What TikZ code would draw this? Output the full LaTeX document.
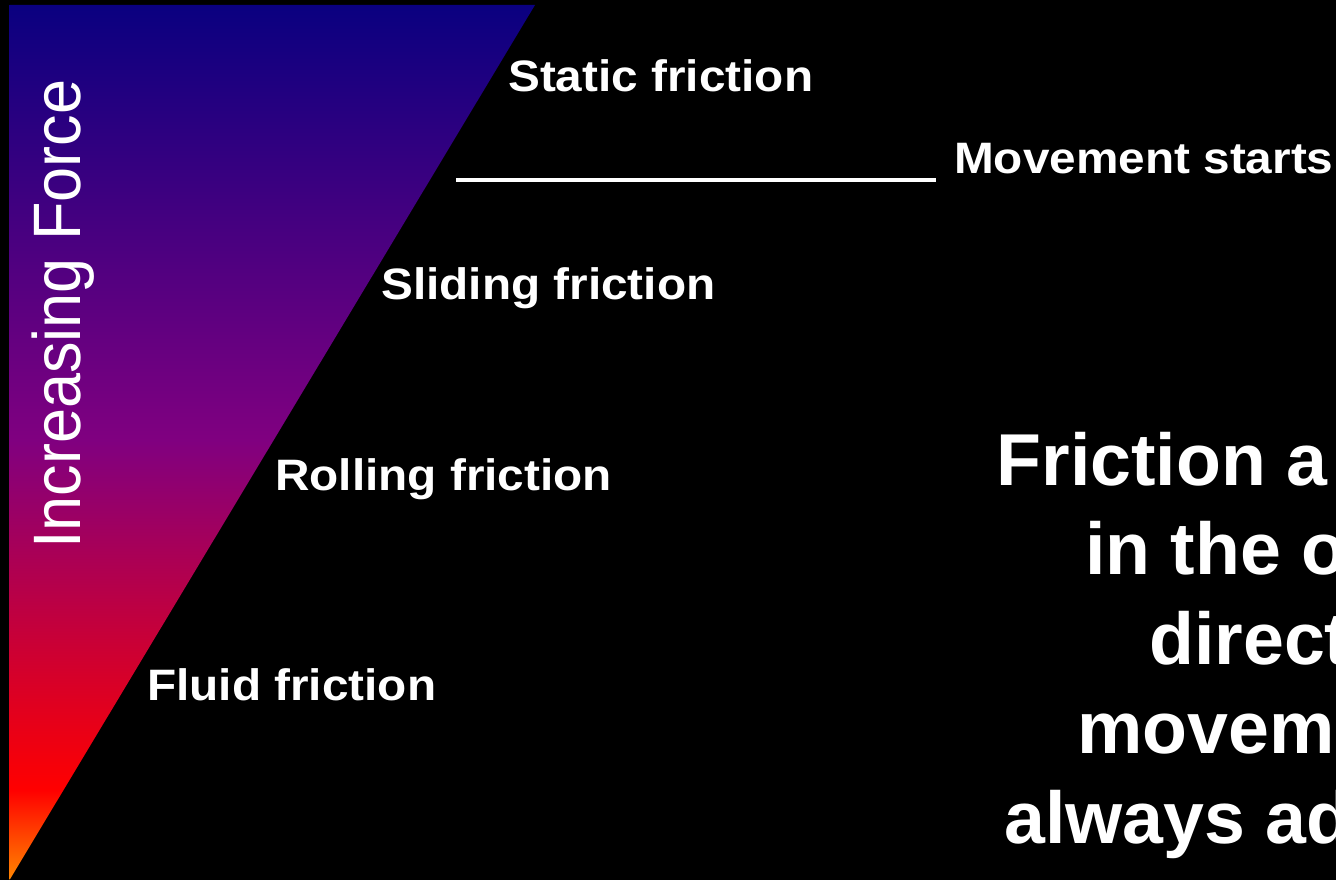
\documentclass[tikz,border=0pt]{standalone}
\usepackage{fontspec}
\setmainfont{Liberation Sans}
\definecolor{orng}{RGB}{255,135,0}
\definecolor{rd}{RGB}{255,0,0}
\definecolor{purp}{RGB}{128,0,128}
\definecolor{navy}{RGB}{10,0,128}
\pgfdeclareverticalshading{forceshade}{100bp}{color(0bp)=(orng); color(25bp)=(orng); color(30.14bp)=(rd); color(50.14bp)=(purp); color(75bp)=(navy); color(100bp)=(navy)}
\tikzset{
  lbl/.style={text=white, font=\bfseries\fontsize{44}{53}\selectfont, inner sep=0pt, anchor=base west},
  big/.style={text=white, font=\bfseries\fontsize{73.5}{88}\selectfont, inner sep=0pt, anchor=base west},
  axislbl/.style={text=white, font=\fontsize{63}{75}\selectfont, inner sep=0pt, anchor=base west, rotate=90},
  rule/.style={draw=white, line width=4.5pt}
}
\begin{document}
\begin{tikzpicture}[x=1pt,y=-1pt]
\useasboundingbox (0,0) rectangle (1336,880);
\clip (0,0) rectangle (1336,880);
\fill[black] (0,0) rectangle (1336,880);
% gradient triangle
\shade[shading=forceshade] (9.5,5) -- (535,5) -- (9.5,880) -- cycle;
% axis label
\node[axislbl] (force) at (80,549) {\scalebox{1}[1.065]{Increasing Force}};
% threshold line
\coordinate (l1) at (456,180);
\coordinate (l2) at (936,180);
\draw[rule] (l1) -- (l2);
% labels
\node[lbl] (static) at (508,92) {\scalebox{1.085}[1]{Static friction}};
\node[lbl] (move) at (954,174) {\scalebox{1.085}[1]{Movement starts}};
\node[lbl] (sliding) at (381,299) {\scalebox{1.085}[1]{Sliding friction}};
\node[lbl] (rolling) at (275,490) {\scalebox{1.085}[1]{Rolling friction}};
\node[lbl] (fluid) at (147,700) {\scalebox{1.085}[1]{Fluid friction}};
% big statement (cut at the right edge, as in the reference)
\node[big] (b1) at (996.5,485) {Friction a};
\node[big] (b2) at (1085,574.5) {in the o};
\node[big] (b3) at (1149,664) {direct};
\node[big] (b4) at (1077,753.5) {movem};
\node[big] (b5) at (1004,843) {always ad};
\end{tikzpicture}
\end{document}
